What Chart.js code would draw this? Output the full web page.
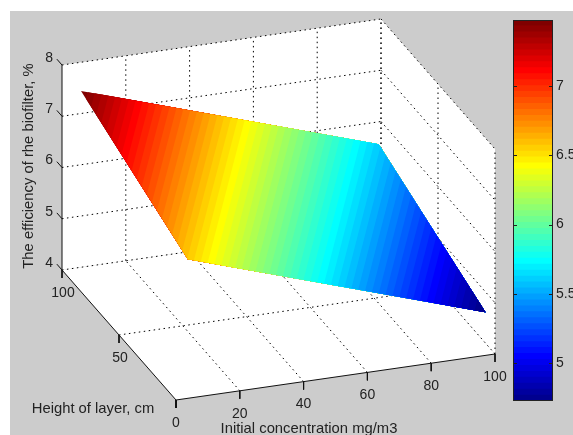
<!DOCTYPE html>
<html>
<head>
<meta charset="utf-8">
<script src="https://cdn.jsdelivr.net/npm/chart.js@4/dist/chart.umd.min.js"></script>
<style>
  html, body { margin: 0; padding: 0; background: #fff; overflow: hidden; }
  #figure { position: absolute; left: 10px; top: 11px; width: 563px; height: 424px; background: #ccc; }
  canvas { position: absolute; top: 0; }
</style>
</head>
<body>
<div id="figure"></div>
<canvas id="surface" width="573" height="435" style="left:0"></canvas>
<canvas id="colorbar" width="83" height="435" style="left:490px"></canvas>
<script>
// Surface values
const concentration = [5.5, 98.8];
const layerHeight = [5, 98.7];
const efficiencyLowLayer = [6.57, 4.70];
const efficiencyHighLayer = [7.478, 5.6];

// Tick labels
const xTicks = [0, 20, 40, 60, 80, 100];
const yTicks = [0, 50, 100];
const zTicks = [4, 5, 6, 7, 8];
const colorTicks = [5, 5.5, 6, 6.5, 7];
const colorRange = [4.725, 7.478];

const FAMILY = '"Liberation Sans", Arial, sans-serif';
const TICK_FONT = '14px ' + FAMILY;
const LABEL_FONT = '14.8px ' + FAMILY;
const TEXT = '#222';

// Orthographic view of the matlab box, in canvas pixels
function project(x, y, z) {
  return {
    x: 176 + x * 3.19 - y * 1.14,
    y: 400 - x * 0.46 - y * 1.3 - (z - 4) * 51.25
  };
}

// jet colormap with 64 levels
function jet(i) {
  const t = (i + 1) / 64;
  const c = v => Math.round(Math.max(0, Math.min(1, v)) * 255);
  return `rgb(${c(Math.min(4 * t - 1.5, -4 * t + 4.5))},${c(Math.min(4 * t - 0.5, -4 * t + 3.5))},${c(Math.min(4 * t + 0.5, -4 * t + 2.5))})`;
}

function levelValue(i) {
  return colorRange[0] + (i + 1) / 64 * (colorRange[1] - colorRange[0]);
}

// keep the part of the surface at or below a level
function clipBelow(corners, level) {
  const out = [];
  corners.forEach((a, i) => {
    const b = corners[(i + 1) % corners.length];
    if (a[2] <= level) out.push(a);
    if ((a[2] <= level) !== (b[2] <= level)) {
      const t = (level - a[2]) / (b[2] - a[2]);
      out.push([a[0] + t * (b[0] - a[0]), a[1] + t * (b[1] - a[1]), level]);
    }
  });
  return out;
}

const line = (pts, style) => ({
  data: pts.map(p => project(p[0], p[1], p[2])),
  showLine: true,
  pointRadius: 0,
  borderWidth: 1,
  borderColor: '#000',
  ...style
});
const solid = pts => line(pts, { borderColor: '#111' });
const dotted = pts => line(pts, { borderDash: [1.5, 3.5], borderColor: '#000' });
const filled = (pts, color) => line(pts, { borderWidth: 0, backgroundColor: color, fill: 'shape' });

// Chart.js paints the first dataset last, so this list runs from top to bottom
const datasets = [];

// axes and tick marks
datasets.push(solid([[0, 0, 4], [100, 0, 4]]));
datasets.push(solid([[0, 0, 4], [0, 100, 4]]));
datasets.push(solid([[0, 100, 4], [0, 100, 8]]));
xTicks.forEach(x => {
  const p = project(x, 0, 4);
  datasets.push({ data: [p, { x: p.x, y: p.y + 8 }], showLine: true, pointRadius: 0, borderWidth: 1, borderColor: '#111' });
});
yTicks.forEach(y => {
  const p = project(0, y, 4);
  datasets.push({ data: [p, { x: p.x, y: p.y + 8 }], showLine: true, pointRadius: 0, borderWidth: 1, borderColor: '#111' });
});
zTicks.forEach(z => datasets.push(solid([[0, 100, z], [0, 104.5, z]])));

// surface, cheapest way to avoid seams is painting each level over the next one
const corners = [
  [concentration[0], layerHeight[1], efficiencyHighLayer[0]],
  [concentration[1], layerHeight[1], efficiencyHighLayer[1]],
  [concentration[1], layerHeight[0], efficiencyLowLayer[1]],
  [concentration[0], layerHeight[0], efficiencyLowLayer[0]]
];
for (let i = 0; i < 64; i++) {
  const pts = i === 63 ? corners : clipBelow(corners, levelValue(i));
  if (pts.length) datasets.push(filled(pts, jet(i)));
}

// grid on the floor and the two back walls
xTicks.slice(1).forEach(x => {
  datasets.push(dotted([[x, 0, 4], [x, 100, 4]]));
  datasets.push(dotted([[x, 100, 4], [x, 100, 8]]));
});
yTicks.slice(1).forEach(y => datasets.push(dotted([[0, y, 4], [100, y, 4]])));
yTicks.forEach(y => datasets.push(dotted([[100, y, 4], [100, y, 8]])));
zTicks.slice(1).forEach(z => {
  datasets.push(dotted([[0, 100, z], [100, 100, z]]));
  datasets.push(dotted([[100, 100, z], [100, 0, z]]));
});

// white panes
datasets.push(filled([[0, 0, 4], [100, 0, 4], [100, 100, 4], [0, 100, 4]], '#fff'));
datasets.push(filled([[0, 100, 4], [100, 100, 4], [100, 100, 8], [0, 100, 8]], '#fff'));
datasets.push(filled([[100, 100, 4], [100, 0, 4], [100, 0, 8], [100, 100, 8]], '#fff'));

const axisText = {
  id: 'axisText',
  afterDraw(chart) {
    const ctx = chart.ctx;
    ctx.save();
    ctx.font = TICK_FONT;
    ctx.fillStyle = TEXT;
    ctx.textAlign = 'center';
    ctx.textBaseline = 'middle';
    xTicks.forEach(x => {
      const p = project(x, 0, 4);
      ctx.fillText(x, p.x, p.y + 23);
    });
    yTicks.slice(1).forEach(y => {
      const p = project(0, y, 4);
      ctx.fillText(y, p.x + 1, p.y + 23);
    });
    ctx.textAlign = 'right';
    zTicks.forEach(z => {
      const p = project(0, 100, z);
      ctx.fillText(z, p.x - 9, p.y - 7);
    });
    ctx.font = LABEL_FONT;
    ctx.textAlign = 'center';
    ctx.fillText('Height of layer, cm', 93, 409);
    ctx.fillText('Initial concentration mg/m3', 309, 429);
    ctx.translate(29, 166);
    ctx.rotate(-Math.PI / 2);
    ctx.fillText('The efficiency of rhe biofilter, %', 0, 0);
    ctx.restore();
  }
};

new Chart(document.getElementById('surface'), {
  type: 'scatter',
  data: { datasets },
  options: {
    responsive: false,
    animation: false,
    layout: { padding: 0 },
    plugins: { legend: { display: false }, tooltip: { enabled: false } },
    scales: {
      x: { type: 'linear', min: 0, max: 573, display: false },
      y: { type: 'linear', min: 0, max: 435, reverse: true, display: false }
    }
  },
  plugins: [axisText]
});

// Colorbar: every band starts at the bottom, the lower ones paint over it
const colorBands = [];
for (let i = 0; i < 64; i++) {
  colorBands.push({
    data: [[colorRange[0], levelValue(i)]],
    backgroundColor: jet(i),
    borderWidth: 0,
    grouped: false,
    barPercentage: 1,
    categoryPercentage: 1
  });
}

const colorbarFrame = {
  id: 'colorbarFrame',
  afterDraw(chart) {
    const { ctx, chartArea: a, scales } = chart;
    ctx.save();
    ctx.strokeStyle = '#222';
    ctx.lineWidth = 1;
    ctx.strokeRect(a.left + 0.5, a.top + 0.5, a.right - a.left - 1, a.bottom - a.top - 1);
    colorTicks.forEach(v => {
      const y = Math.round(scales.y.getPixelForValue(v)) + 0.5;
      ctx.beginPath();
      ctx.moveTo(a.left, y);
      ctx.lineTo(a.left + 4, y);
      ctx.moveTo(a.right, y);
      ctx.lineTo(a.right - 4, y);
      ctx.stroke();
    });
    ctx.restore();
  }
};

new Chart(document.getElementById('colorbar'), {
  type: 'bar',
  data: { labels: [''], datasets: colorBands },
  options: {
    responsive: false,
    animation: false,
    layout: { padding: { left: 23, top: 20, bottom: 34, right: 0 } },
    plugins: { legend: { display: false }, tooltip: { enabled: false } },
    scales: {
      x: { display: false },
      y: {
        position: 'right',
        min: colorRange[0],
        max: colorRange[1],
        afterBuildTicks: s => { s.ticks = colorTicks.map(value => ({ value })); },
        afterFit: s => { s.width = 20; },
        grid: { display: false, drawTicks: false },
        border: { display: false },
        ticks: {
          color: TEXT,
          padding: 3,
          font: { family: FAMILY, size: 14 },
          autoSkip: false,
          maxRotation: 0,
          callback: v => v
        }
      }
    }
  },
  plugins: [colorbarFrame]
});
</script>
</body>
</html>
